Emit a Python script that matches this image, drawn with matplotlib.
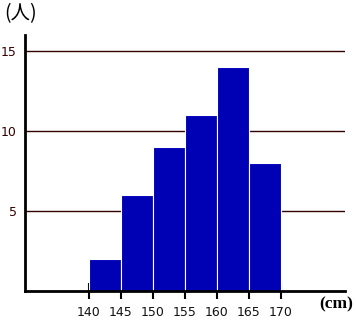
import matplotlib
matplotlib.use("Agg")
import matplotlib.pyplot as plt

bin_edges = [140, 145, 150, 155, 160, 165, 170]
counts = [2, 6, 9, 11, 14, 8]
y_ticks = [5, 10, 15]
x_ticks = [140, 145, 150, 155, 160, 165, 170]

W, H = 356, 322
fig = plt.figure(figsize=(W / 100, H / 100), dpi=100)
ax = fig.add_axes([25 / W, (H - 291) / H, 320 / W, 256 / H])

lefts = bin_edges[:-1]
widths = [b - a for a, b in zip(bin_edges[:-1], bin_edges[1:])]
ax.bar(lefts, counts, width=widths, align="edge", color="#0000B4",
       edgecolor="white", linewidth=0.8, zorder=2)

ax.set_xlim(130, 180)
ax.set_ylim(0, 16)
ax.set_axisbelow(True)
ax.set_yticks(y_ticks)
ax.set_xticks(x_ticks)
ax.grid(axis="y", color="#330000", linewidth=1.0)
ax.tick_params(axis="y", length=0, pad=6, labelsize=9, labelcolor="#330000")
ax.tick_params(axis="x", direction="inout", length=11, width=1.5,
               labelsize=9, pad=5, labelcolor="#111111")
for s in ["top", "right"]:
    ax.spines[s].set_visible(False)
for s in ["left", "bottom"]:
    ax.spines[s].set_linewidth(2)
    ax.spines[s].set_zorder(3)

fig.text(4 / W, 1 - 14 / H, "(人)", fontsize=14,
         family=["Noto Sans CJK JP", "DejaVu Sans"], va="center", ha="left")
fig.text(353 / W, 1 - 304 / H, "(cm)", fontsize=12.5, family="Liberation Serif",
         fontweight="bold", va="center", ha="right")

fig.savefig("out.png", dpi=100)
